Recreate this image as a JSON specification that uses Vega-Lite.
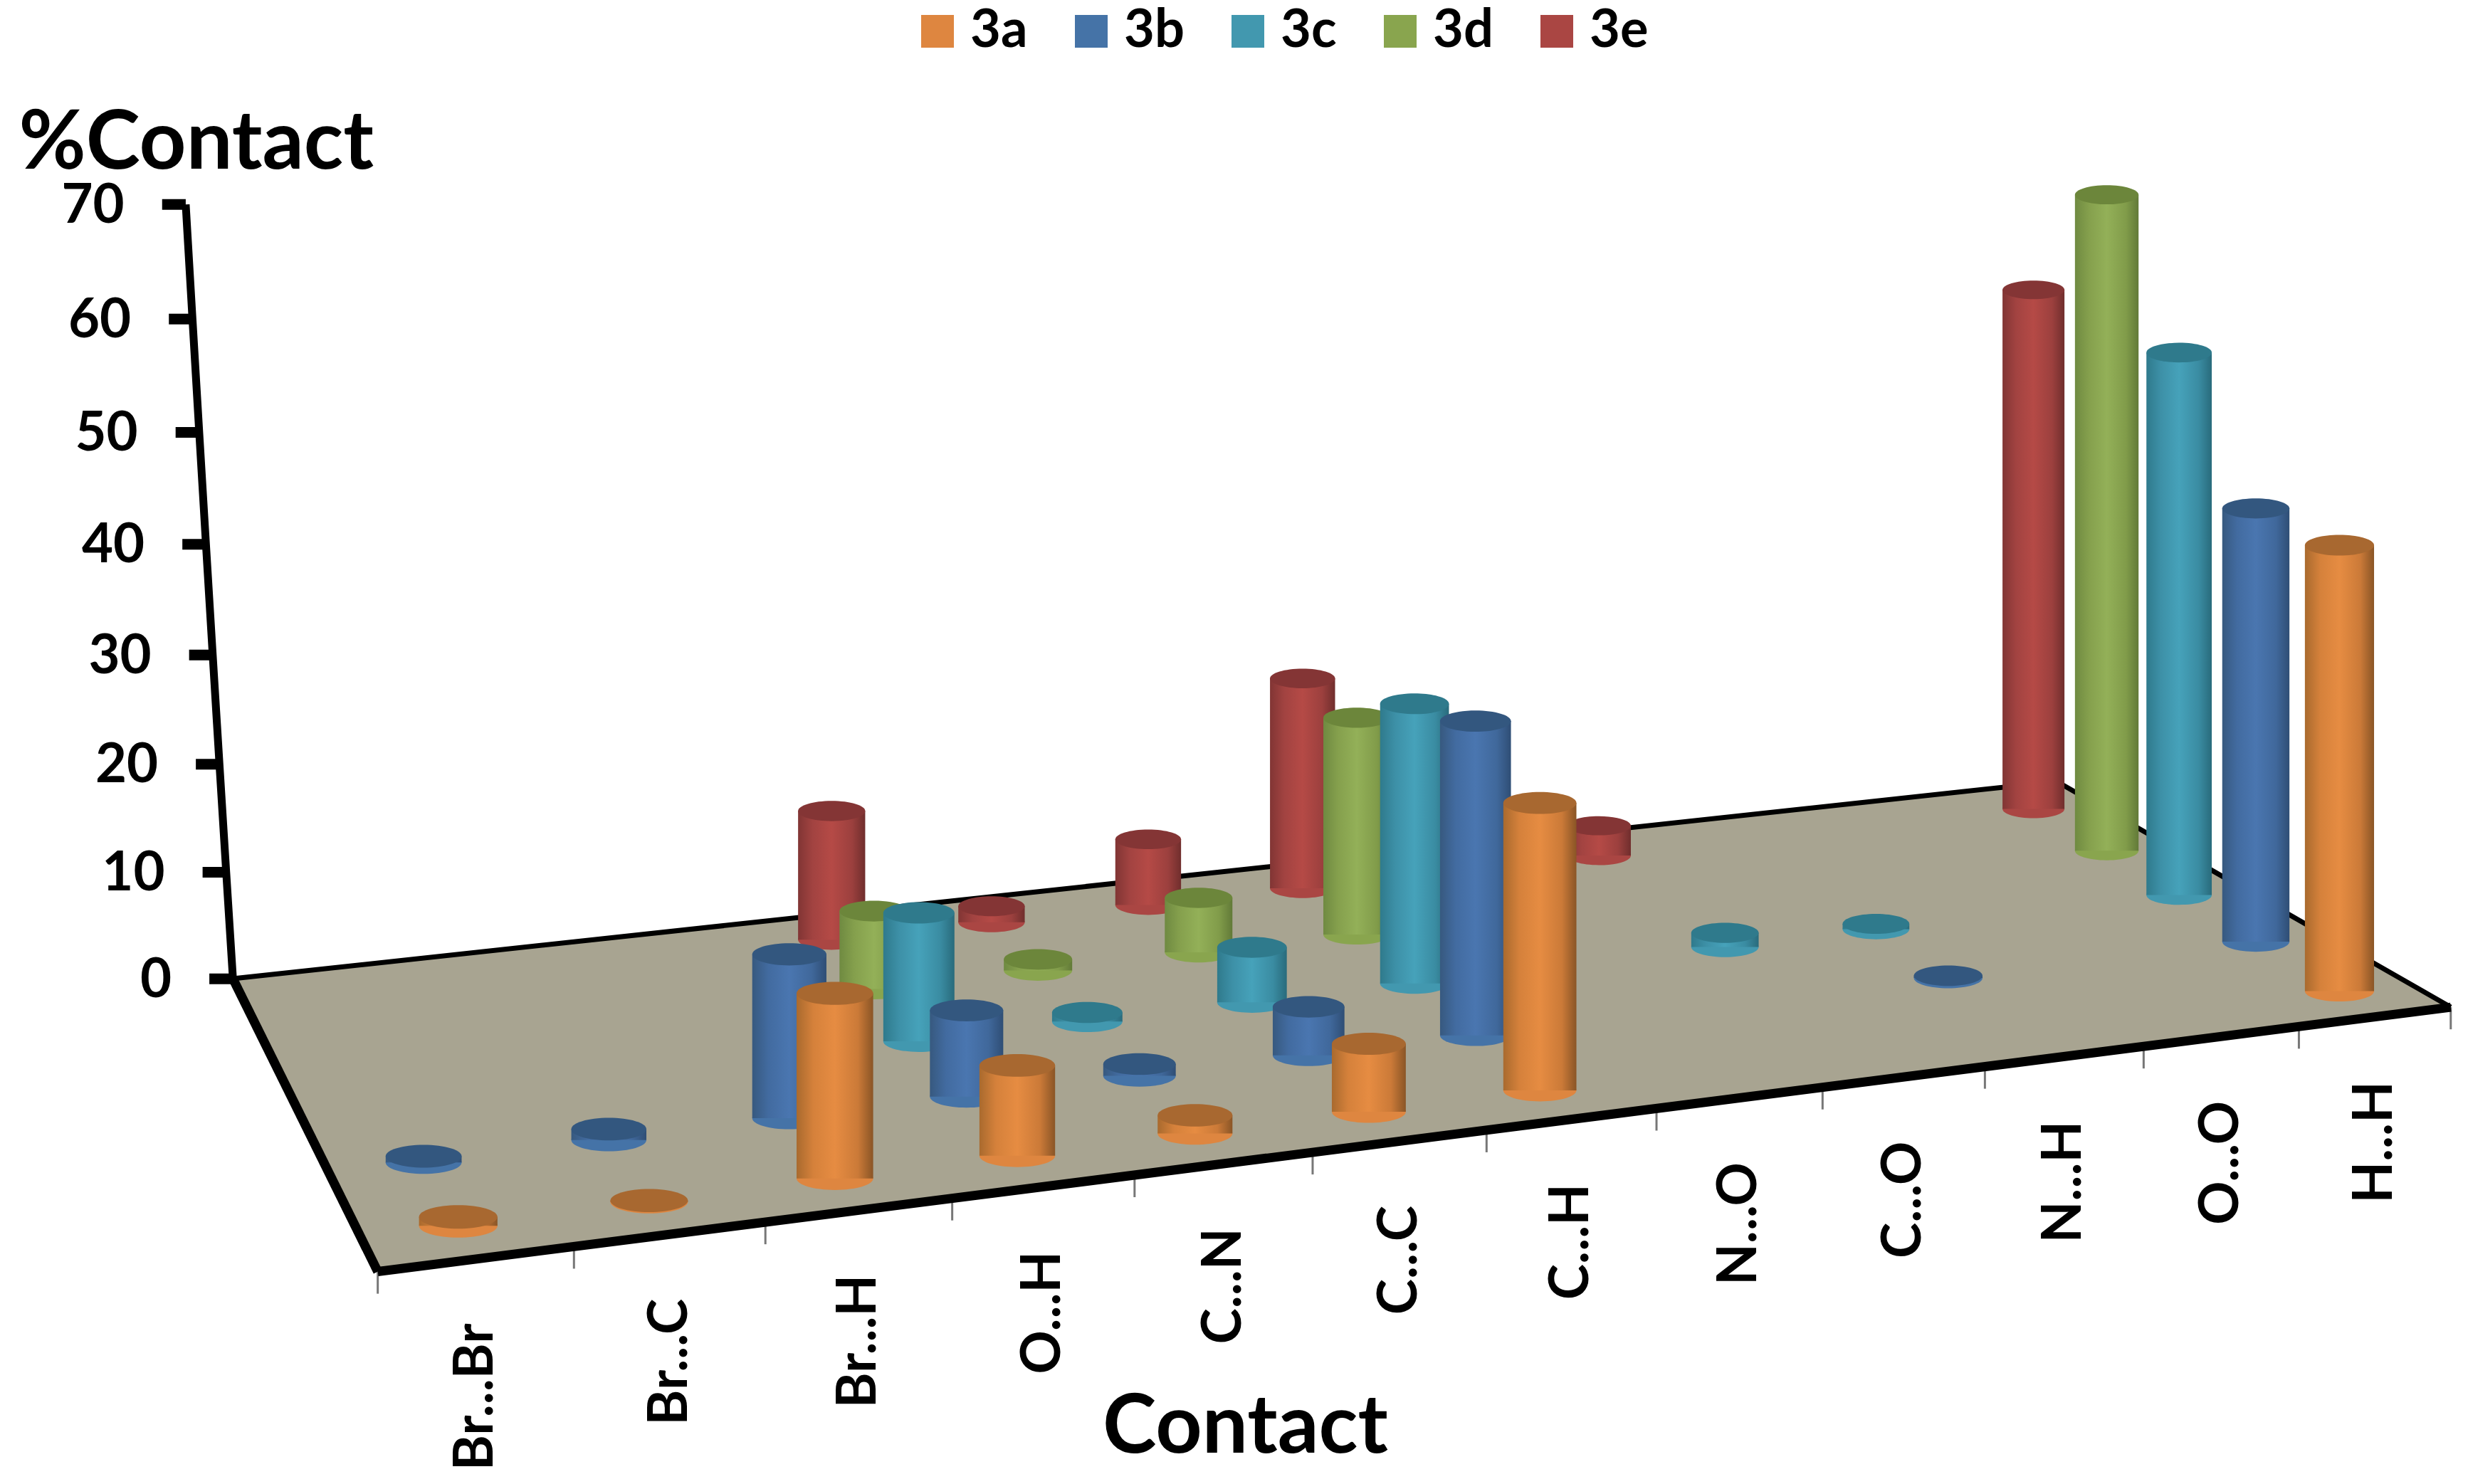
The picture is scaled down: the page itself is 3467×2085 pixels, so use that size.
{"$schema":"https://vega.github.io/schema/vega-lite/v6.json","width":3467,"height":2085,"padding":0,"autosize":{"type":"none"},"background":"white","view":{"stroke":null},
"config":{"font":"Lato"},
"datasets":{
"corners":[{"o":0,"u":0,"v":0},{"o":1,"u":1,"v":0},{"o":2,"u":1,"v":1},{"o":3,"u":0,"v":1},{"o":4,"u":0,"v":0}],
"edges":[{"edge":"front","u1":0,"v1":0,"u2":1,"v2":0},{"edge":"left","u1":0,"v1":0,"u2":0,"v2":1},{"edge":"back","u1":0,"v1":1,"u2":1,"v2":1},{"edge":"right","u1":1,"v1":0,"u2":1,"v2":1}],
"wall":[{"pct":0},{"pct":10},{"pct":20},{"pct":30},{"pct":40},{"pct":50},{"pct":60},{"pct":70}],
"steps":[{"k":0},{"k":1},{"k":2},{"k":3},{"k":4},{"k":5},{"k":6},{"k":7},{"k":8},{"k":9},{"k":10},{"k":11},{"k":12}],
"contacts":[{"contact":"Br...Br","c":0},{"contact":"Br...C","c":1},{"contact":"Br...H","c":2},{"contact":"O...H","c":3},{"contact":"C...N","c":4},{"contact":"C...C","c":5},{"contact":"C...H","c":6},{"contact":"N...O","c":7},{"contact":"C...O","c":8},{"contact":"N...H","c":9},{"contact":"O...O","c":10},{"contact":"H...H","c":11}]
},
"data":{"values":[
{"contact":"Br...Br","series":"3a","value":0.7},{"contact":"Br...C","series":"3a","value":0.1},{"contact":"Br...H","series":"3a","value":15},{"contact":"O...H","series":"3a","value":7.4},{"contact":"C...N","series":"3a","value":1.5},{"contact":"C...C","series":"3a","value":5.7},{"contact":"C...H","series":"3a","value":24.4},{"contact":"H...H","series":"3a","value":40},
{"contact":"Br...Br","series":"3b","value":0.5},{"contact":"Br...C","series":"3b","value":0.9},{"contact":"Br...H","series":"3b","value":13.7},{"contact":"O...H","series":"3b","value":7.3},{"contact":"C...N","series":"3b","value":1},{"contact":"C...C","series":"3b","value":4.2},{"contact":"C...H","series":"3b","value":27.5},{"contact":"N...H","series":"3b","value":0.2},{"contact":"H...H","series":"3b","value":40},
{"contact":"O...H","series":"3c","value":11.2},{"contact":"C...N","series":"3c","value":0.8},{"contact":"C...C","series":"3c","value":4.9},{"contact":"C...H","series":"3c","value":25.2},{"contact":"C...O","series":"3c","value":1.3},{"contact":"N...H","series":"3c","value":0.5},{"contact":"H...H","series":"3c","value":51.5},
{"contact":"O...H","series":"3d","value":7},{"contact":"C...N","series":"3d","value":1},{"contact":"C...C","series":"3d","value":5},{"contact":"C...H","series":"3d","value":20.1},{"contact":"H...H","series":"3d","value":64},
{"contact":"O...H","series":"3e","value":11.9},{"contact":"C...N","series":"3e","value":1.5},{"contact":"C...C","series":"3e","value":6.2},{"contact":"C...H","series":"3e","value":20},{"contact":"C...O","series":"3e","value":2.9},{"contact":"H...H","series":"3e","value":52}
]},
"transform":[
{"calculate":"(indexof(['Br...Br','Br...C','Br...H','O...H','C...N','C...C','C...H','N...O','C...O','N...H','O...O','H...H'],datum.contact)+0.5)/12","as":"u"},
{"calculate":"(indexof(['3a','3b','3c','3d','3e'],datum.series)+0.5)/5","as":"v"},
{"calculate":"1+0.15*datum.u+0.169*datum.v","as":"den"},
{"calculate":"(1550.6*datum.u-67*datum.v+240)/datum.den+0.2*datum.value*(datum.u-0.33)","as":"px"},
{"calculate":"(622-(-72*datum.u-81*datum.v+808)/datum.den)/7.03","as":"yb"},
{"calculate":"datum.yb+datum.value*8.22/datum.den/7.03","as":"yt"},
{"calculate":"51/datum.den","as":"w"},
{"calculate":"datum.px-datum.w/2","as":"xl"},
{"calculate":"datum.px+datum.w/2","as":"xr"},
{"calculate":"pow(datum.w*2.211,2)","as":"sz"}
],
"layer":[
{"data":{"name":"corners"},"transform":[{"calculate":"(1550.6*datum.u-67*datum.v+240)/(1+0.15*datum.u+0.169*datum.v)","as":"px"},{"calculate":"(622-(-72*datum.u-81*datum.v+808)/(1+0.15*datum.u+0.169*datum.v))/7.03","as":"py"}],
"mark":{"type":"line","fill":"#a8a491","stroke":"#a8a491","strokeWidth":1},
"encoding":{"order":{"field":"o","type":"quantitative"},
"x":{"field":"px","type":"quantitative","scale":{"domain":[0,1568],"nice":false,"zero":false},"axis":{"title":"Contact","labels":false,"ticks":false,"domain":false,"grid":false,"titleX":1749,"titleY":-45,"titleFont":"Lato","titleFontWeight":"bold","titleFontSize":114,"titleColor":"#000","titleAlign":"center","titleBaseline":"alphabetic"}},
"y":{"field":"py","type":"quantitative","scale":{"domain":[-45.66,88.48],"nice":false,"zero":false},"axis":{"title":"%Contact","labels":false,"values":[0,10,20,30,40,50,60,70],"ticks":false,"domain":false,"grid":false,"titleX":26,"titleY":236,"titleAngle":0,"titleAlign":"left","titleBaseline":"alphabetic","titleFont":"Lato","titleFontWeight":"bold","titleFontSize":115,"titleColor":"#000"}}}},
{"data":{"name":"edges"},"transform":[{"filter":"datum.edge==='back'||datum.edge==='right'"},{"calculate":"(1550.6*datum.u1-67*datum.v1+240)/(1+0.15*datum.u1+0.169*datum.v1)","as":"x1"},{"calculate":"(622-(-72*datum.u1-81*datum.v1+808)/(1+0.15*datum.u1+0.169*datum.v1))/7.03","as":"y1"},{"calculate":"(1550.6*datum.u2-67*datum.v2+240)/(1+0.15*datum.u2+0.169*datum.v2)","as":"x2"},{"calculate":"(622-(-72*datum.u2-81*datum.v2+808)/(1+0.15*datum.u2+0.169*datum.v2))/7.03","as":"y2"}],
"mark":{"type":"rule","color":"#000","strokeWidth":7},"encoding":{"x":{"field":"x1","type":"quantitative"},"y":{"field":"y1","type":"quantitative"},"x2":{"field":"x2"},"y2":{"field":"y2"}}},
{"data":{"name":"steps"},"transform":[{"calculate":"datum.k/12","as":"u"},{"calculate":"(1550.6*datum.u+240)/(1+0.15*datum.u)","as":"px"},{"calculate":"(622-(-72*datum.u+808)/(1+0.15*datum.u))/7.03","as":"y1"},{"calculate":"datum.y1-2","as":"y2"}],
"mark":{"type":"rule","color":"#777","strokeWidth":3},"encoding":{"x":{"field":"px","type":"quantitative"},"y":{"field":"y1","type":"quantitative"},"y2":{"field":"y2"}}},
{"data":{"name":"edges"},"transform":[{"filter":"datum.edge==='front'||datum.edge==='left'"},{"calculate":"(1550.6*datum.u1-67*datum.v1+240)/(1+0.15*datum.u1+0.169*datum.v1)","as":"x1"},{"calculate":"(622-(-72*datum.u1-81*datum.v1+808)/(1+0.15*datum.u1+0.169*datum.v1))/7.03","as":"y1"},{"calculate":"(1550.6*datum.u2-67*datum.v2+240)/(1+0.15*datum.u2+0.169*datum.v2)","as":"x2"},{"calculate":"(622-(-72*datum.u2-81*datum.v2+808)/(1+0.15*datum.u2+0.169*datum.v2))/7.03","as":"y2"}],
"mark":{"type":"rule","color":"#000","strokeWidth":13},"encoding":{"x":{"field":"x1","type":"quantitative"},"y":{"field":"y1","type":"quantitative"},"x2":{"field":"x2"},"y2":{"field":"y2"}}},
{"data":{"name":"wall"},"transform":[{"calculate":"148-30*datum.pct/70","as":"px"},{"calculate":"datum.pct-0.74*(1-pow((datum.pct-35)/35,2))","as":"py"}],
"mark":{"type":"line","color":"#000","strokeWidth":11},"encoding":{"order":{"field":"pct","type":"quantitative"},"x":{"field":"px","type":"quantitative"},"y":{"field":"py","type":"quantitative"}}},
{"data":{"name":"wall"},"transform":[{"calculate":"148-30*datum.pct/70","as":"px"},{"calculate":"datum.px-15","as":"px0"},{"calculate":"datum.pct-0.74*(1-pow((datum.pct-35)/35,2))","as":"py"}],
"mark":{"type":"rule","color":"#000","strokeWidth":15},"encoding":{"x":{"field":"px0","type":"quantitative"},"x2":{"field":"px"},"y":{"field":"py","type":"quantitative"}}},
{"data":{"name":"wall"},"transform":[{"calculate":"148-30*datum.pct/70-39","as":"px"},{"calculate":"datum.pct-0.74*(1-pow((datum.pct-35)/35,2))-0.15","as":"py"}],
"mark":{"type":"text","align":"right","baseline":"middle","font":"Lato","fontWeight":"bold","fontSize":76,"color":"#000"},"encoding":{"text":{"field":"pct","type":"quantitative"},"x":{"field":"px","type":"quantitative"},"y":{"field":"py","type":"quantitative"}}},
{"data":{"name":"contacts"},"transform":[{"calculate":"(datum.c+0.5)/12","as":"u"},{"calculate":"(1550.6*datum.u+240)/(1+0.15*datum.u)","as":"px"},{"calculate":"(622-41-(-72*datum.u+808)/(1+0.15*datum.u))/7.03","as":"py"}],
"mark":{"type":"text","angle":270,"align":"right","baseline":"middle","font":"Lato","fontWeight":"bold","fontSize":76,"color":"#000"},"encoding":{"text":{"field":"contact"},"x":{"field":"px","type":"quantitative"},"y":{"field":"py","type":"quantitative"}}},

{"transform":[{"filter":"datum.series==='3e'"}],"mark":{"type":"point","filled":true,"opacity":1,"shape":"M-1,0A1,0.3 0 1,1 1,0A1,0.3 0 1,1 -1,0Z"},"encoding":{"x":{"field":"px","type":"quantitative"},"y":{"field":"yb","type":"quantitative"},"size":{"field":"sz","type":"quantitative","scale":null},"color":{"field":"series","type":"nominal","scale":{"domain":["3a","3b","3c","3d","3e"],"range":["#DE8640","#4573A7","#4298AF","#89A54E","#AA4643"]},"legend":{"orient":"none","legendX":1280,"legendY":7,"direction":"horizontal","columns":5,"title":null,"symbolType":"square","symbolSize":2116,"symbolOpacity":1,"symbolStrokeWidth":0,"labelFont":"Lato","labelFontWeight":"bold","labelFontSize":74,"labelColor":"#000","labelOffset":9,"columnPadding":52}}}},
{"transform":[{"filter":"datum.series==='3e'"}],"mark":{"type":"rect","color":{"gradient":"linear","x1":0,"x2":1,"y1":0,"y2":0,"stops":[{"offset":0,"color":"#813534"},{"offset":0.22,"color":"#A24341"},{"offset":0.5,"color":"#B54A46"},{"offset":0.8,"color":"#9C403E"},{"offset":1,"color":"#702E2D"}]}},"encoding":{"x":{"field":"xl","type":"quantitative"},"x2":{"field":"xr"},"y":{"field":"yt","type":"quantitative"},"y2":{"field":"yb"}}},
{"transform":[{"filter":"datum.series==='3e'"}],"mark":{"type":"point","filled":true,"opacity":1,"color":"#843535","shape":"M-1,0A1,0.3 0 1,1 1,0A1,0.3 0 1,1 -1,0Z"},"encoding":{"x":{"field":"px","type":"quantitative"},"y":{"field":"yt","type":"quantitative"},"size":{"field":"sz","type":"quantitative","scale":null}}},

{"transform":[{"filter":"datum.series==='3d'"}],"mark":{"type":"point","filled":true,"opacity":1,"shape":"M-1,0A1,0.3 0 1,1 1,0A1,0.3 0 1,1 -1,0Z"},"encoding":{"x":{"field":"px","type":"quantitative"},"y":{"field":"yb","type":"quantitative"},"size":{"field":"sz","type":"quantitative","scale":null},"color":{"field":"series","type":"nominal"}}},
{"transform":[{"filter":"datum.series==='3d'"}],"mark":{"type":"rect","color":{"gradient":"linear","x1":0,"x2":1,"y1":0,"y2":0,"stops":[{"offset":0,"color":"#6F8A41"},{"offset":0.22,"color":"#85A04D"},{"offset":0.5,"color":"#93B058"},{"offset":0.8,"color":"#819C4A"},{"offset":1,"color":"#627A38"}]}},"encoding":{"x":{"field":"xl","type":"quantitative"},"x2":{"field":"xr"},"y":{"field":"yt","type":"quantitative"},"y2":{"field":"yb"}}},
{"transform":[{"filter":"datum.series==='3d'"}],"mark":{"type":"point","filled":true,"opacity":1,"color":"#6C863B","shape":"M-1,0A1,0.3 0 1,1 1,0A1,0.3 0 1,1 -1,0Z"},"encoding":{"x":{"field":"px","type":"quantitative"},"y":{"field":"yt","type":"quantitative"},"size":{"field":"sz","type":"quantitative","scale":null}}},

{"transform":[{"filter":"datum.series==='3c'"}],"mark":{"type":"point","filled":true,"opacity":1,"shape":"M-1,0A1,0.3 0 1,1 1,0A1,0.3 0 1,1 -1,0Z"},"encoding":{"x":{"field":"px","type":"quantitative"},"y":{"field":"yb","type":"quantitative"},"size":{"field":"sz","type":"quantitative","scale":null},"color":{"field":"series","type":"nominal"}}},
{"transform":[{"filter":"datum.series==='3c'"}],"mark":{"type":"rect","color":{"gradient":"linear","x1":0,"x2":1,"y1":0,"y2":0,"stops":[{"offset":0,"color":"#2F7A8C"},{"offset":0.22,"color":"#3D90A7"},{"offset":0.5,"color":"#46A2BA"},{"offset":0.8,"color":"#3A8CA2"},{"offset":1,"color":"#296B7C"}]}},"encoding":{"x":{"field":"xl","type":"quantitative"},"x2":{"field":"xr"},"y":{"field":"yt","type":"quantitative"},"y2":{"field":"yb"}}},
{"transform":[{"filter":"datum.series==='3c'"}],"mark":{"type":"point","filled":true,"opacity":1,"color":"#2F7A8C","shape":"M-1,0A1,0.3 0 1,1 1,0A1,0.3 0 1,1 -1,0Z"},"encoding":{"x":{"field":"px","type":"quantitative"},"y":{"field":"yt","type":"quantitative"},"size":{"field":"sz","type":"quantitative","scale":null}}},

{"transform":[{"filter":"datum.series==='3b'"}],"mark":{"type":"point","filled":true,"opacity":1,"shape":"M-1,0A1,0.3 0 1,1 1,0A1,0.3 0 1,1 -1,0Z"},"encoding":{"x":{"field":"px","type":"quantitative"},"y":{"field":"yb","type":"quantitative"},"size":{"field":"sz","type":"quantitative","scale":null},"color":{"field":"series","type":"nominal"}}},
{"transform":[{"filter":"datum.series==='3b'"}],"mark":{"type":"rect","color":{"gradient":"linear","x1":0,"x2":1,"y1":0,"y2":0,"stops":[{"offset":0,"color":"#37597F"},{"offset":0.22,"color":"#426BA0"},{"offset":0.5,"color":"#4A76B0"},{"offset":0.8,"color":"#40689B"},{"offset":1,"color":"#2F4E75"}]}},"encoding":{"x":{"field":"xl","type":"quantitative"},"x2":{"field":"xr"},"y":{"field":"yt","type":"quantitative"},"y2":{"field":"yb"}}},
{"transform":[{"filter":"datum.series==='3b'"}],"mark":{"type":"point","filled":true,"opacity":1,"color":"#33577F","shape":"M-1,0A1,0.3 0 1,1 1,0A1,0.3 0 1,1 -1,0Z"},"encoding":{"x":{"field":"px","type":"quantitative"},"y":{"field":"yt","type":"quantitative"},"size":{"field":"sz","type":"quantitative","scale":null}}},

{"transform":[{"filter":"datum.series==='3a'"}],"mark":{"type":"point","filled":true,"opacity":1,"shape":"M-1,0A1,0.3 0 1,1 1,0A1,0.3 0 1,1 -1,0Z"},"encoding":{"x":{"field":"px","type":"quantitative"},"y":{"field":"yb","type":"quantitative"},"size":{"field":"sz","type":"quantitative","scale":null},"color":{"field":"series","type":"nominal"}}},
{"transform":[{"filter":"datum.series==='3a'"}],"mark":{"type":"rect","color":{"gradient":"linear","x1":0,"x2":1,"y1":0,"y2":0,"stops":[{"offset":0,"color":"#A96A2E"},{"offset":0.22,"color":"#D5813B"},{"offset":0.5,"color":"#E68C42"},{"offset":0.8,"color":"#CB7A38"},{"offset":1,"color":"#8A5526"}]}},"encoding":{"x":{"field":"xl","type":"quantitative"},"x2":{"field":"xr"},"y":{"field":"yt","type":"quantitative"},"y2":{"field":"yb"}}},
{"transform":[{"filter":"datum.series==='3a'"}],"mark":{"type":"point","filled":true,"opacity":1,"color":"#A86830","shape":"M-1,0A1,0.3 0 1,1 1,0A1,0.3 0 1,1 -1,0Z"},"encoding":{"x":{"field":"px","type":"quantitative"},"y":{"field":"yt","type":"quantitative"},"size":{"field":"sz","type":"quantitative","scale":null}}}
]}
